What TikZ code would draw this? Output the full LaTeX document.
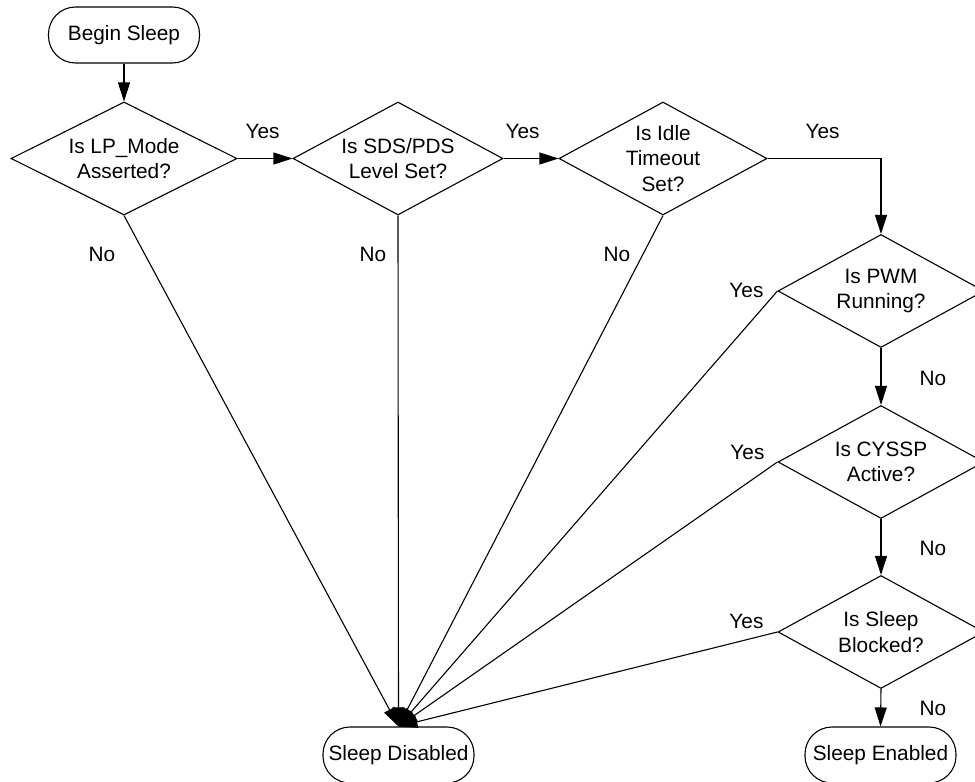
\documentclass[tikz,border=0pt]{standalone}
\usepackage{fontspec}
\setmainfont{Liberation Sans}
\usepackage{tikz}
\usetikzlibrary{positioning, calc, arrows.meta, shapes.geometric}
\tikzset{every node/.style={font=\fontsize{20.8}{25.5}\selectfont}}
\tikzset{terminal/.style={draw, rectangle, rounded corners=27pt, inner sep=0pt, minimum width=151pt, minimum height=56pt, line width=1.1pt}}
\tikzset{decision/.style={draw, diamond, shape aspect=1.8, inner sep=0pt, align=center, minimum height=113pt, line width=1.1pt}}
\tikzset{flow/.style={line width=1.1pt, -{Triangle[length=19pt, width=12pt]}}}
\tikzset{answer/.style={inner sep=0pt}}

\begin{document}
\begin{tikzpicture}[x=1pt, y=1pt]
      \useasboundingbox (0,0) rectangle (975,-782);
      \clip (0,0) rectangle (975,-782);

      % start and end states
      \node[terminal] (begin) at (124,-35) {Begin Sleep};
      \node[terminal] (disabled) at (398.5,-755) {Sleep Disabled};
      \node[terminal] (enabled) at (880.5,-755) {Sleep Enabled};

      % checks along the top
      \node[decision, minimum width=226pt] (lpmode) at (124,-158.5) {Is LP\_Mode\\Asserted?};
      \node[decision, minimum width=210pt] (level) at (398,-158.5) {Is SDS/PDS\\Level Set?};
      \node[decision, minimum width=208pt] (idle) at (663,-158.5) {Is Idle\\Timeout\\Set?};

      % checks down the right side
      \node[decision, minimum width=206pt] (pwm) at (881,-291) {Is PWM\\Running?};
      \node[decision, minimum width=206pt] (cyssp) at (881,-462) {Is CYSSP\\Active?};
      \node[decision, minimum width=206pt] (blocked) at (881,-632) {Is Sleep\\Blocked?};

      \draw[flow] (begin) -- (lpmode);
      \draw[flow] (lpmode.east) -- (level.west);
      \draw[flow] (level.east) -- (idle.west);
      \draw[flow] (idle.east) -| (pwm.north);
      \draw[flow] (pwm.south) -- (cyssp.north);
      \draw[flow] (cyssp.south) -- (blocked.north);
      \draw[flow] (blocked.south) -- (enabled.north);

      % every failed check ends in one place
      \draw[flow] (lpmode.south) -- (disabled.north);
      \draw[flow] (level.south) -- (disabled.north);
      \draw[flow] (idle.south) -- (disabled.north);
      \draw[flow] (pwm.west) -- (disabled.north);
      \draw[flow] (cyssp.west) -- (disabled.north);
      \draw[flow] (blocked.west) -- (disabled.north);

      % answers
      \node[answer] (y1) at ($(lpmode.east)+(25,27)$) {Yes};
      \node[answer] (y2) at ($(level.east)+(19,27)$) {Yes};
      \node[answer] (y3) at ($(idle.east)+(55,27)$) {Yes};
      \node[answer] (y4) at ($(pwm.west)+(-31,1)$) {Yes};
      \node[answer] (y5) at ($(cyssp.west)+(-30,10)$) {Yes};
      \node[answer] (y6) at ($(blocked.west)+(-31,11)$) {Yes};
      \node[answer] (n1) at ($(lpmode.south)+(-22,-39)$) {No};
      \node[answer] (n2) at ($(level.south)+(-25,-39)$) {No};
      \node[answer] (n3) at ($(idle.south)+(-46,-39)$) {No};
      \node[answer] (n4) at ($(pwm.south)+(52,-30)$) {No};
      \node[answer] (n5) at ($(cyssp.south)+(52,-29)$) {No};
      \node[answer] (n6) at ($(blocked.south)+(52,-19)$) {No};
    \end{tikzpicture}
\end{document}
